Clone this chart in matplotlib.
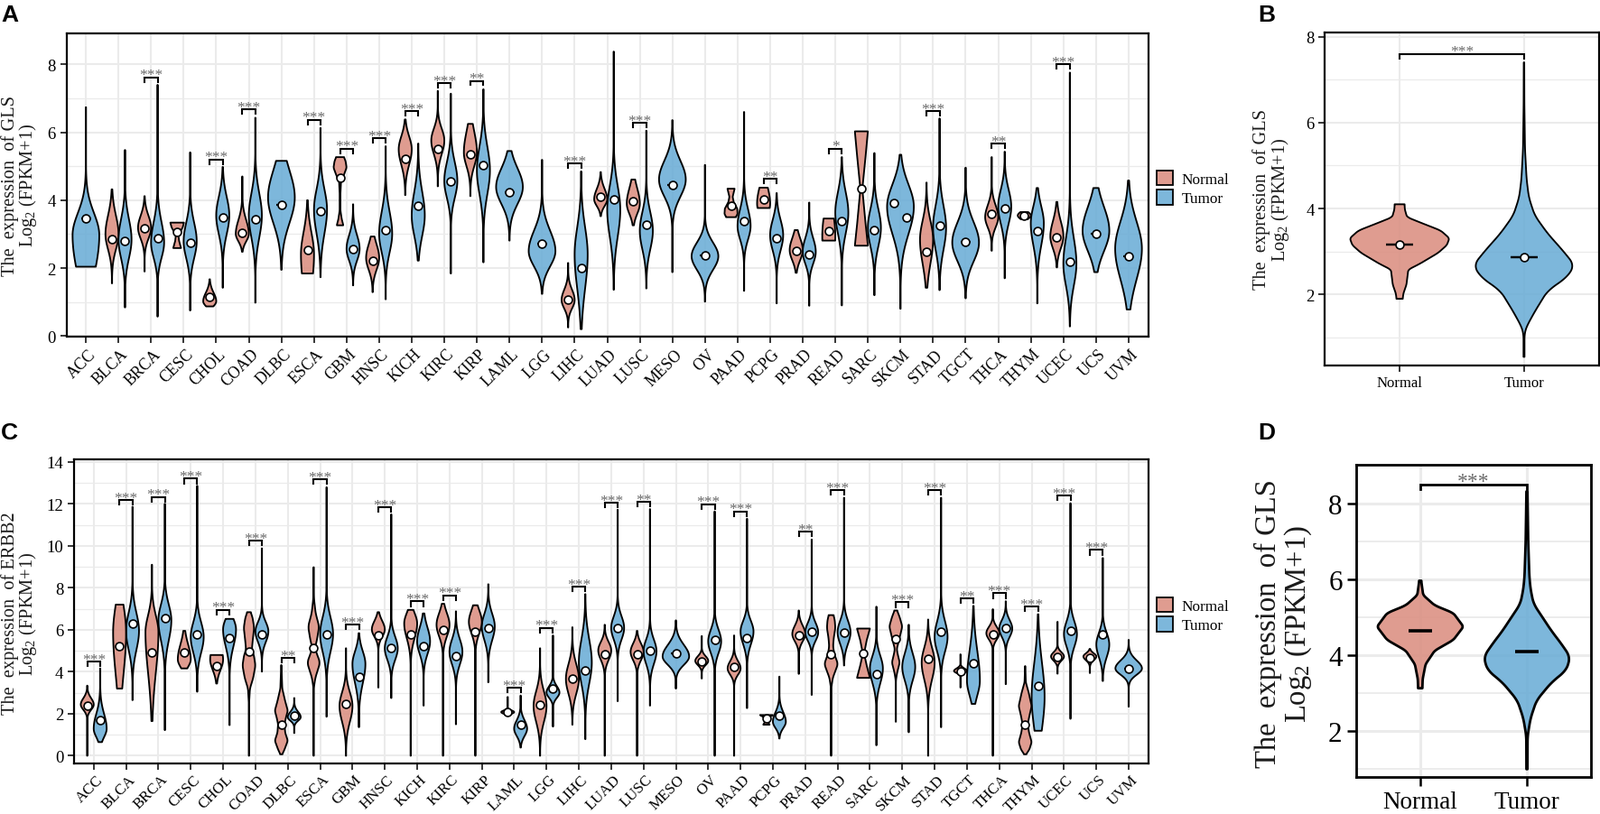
import numpy as np
import matplotlib
matplotlib.use("Agg")
import matplotlib.pyplot as plt
from matplotlib.patches import Patch
from matplotlib.transforms import ScaledTranslation
from matplotlib.colors import to_rgba

plt.rcParams['font.family'] = ['Liberation Serif', 'DejaVu Serif']
plt.rcParams['mathtext.fontset'] = 'custom'
plt.rcParams['mathtext.rm'] = 'Liberation Serif'
plt.rcParams['mathtext.default'] = 'regular'

W, H = 1772, 903
NORMAL_COL = to_rgba('#DB8F81', 0.88)
TUMOR_COL = to_rgba('#6BADD6', 0.88)

cancers = ['ACC', 'BLCA', 'BRCA', 'CESC', 'CHOL', 'COAD', 'DLBC', 'ESCA', 'GBM', 'HNSC', 'KICH',
           'KIRC', 'KIRP', 'LAML', 'LGG', 'LIHC', 'LUAD', 'LUSC', 'MESO', 'OV', 'PAAD', 'PCPG',
           'PRAD', 'READ', 'SARC', 'SKCM', 'STAD', 'TGCT', 'THCA', 'THYM', 'UCEC', 'UCS', 'UVM']

# Panel A, tumor violins (one per cancer)
a_t_lo = [2.04, .84, .57, .75, 1.42, .98, 1.95, 1.73, 1.49, 1.08, 2.22, 1.84, 2.17, 2.81, 1.24, .2, 1.36,
          1.4, 1.88, 1.01, 1.33, .96, .89, .9, 1.2, .8, 1.35, 1.11, 1.7, .96, .28, 1.88, .78]
a_t_hi = [6.74, 5.48, 7.4, 5.41, 4.98, 6.43, 5.16, 6.13, 3.88, 5.59, 5.67, 7.14, 7.27, 5.45, 5.19, 4.85, 8.38,
          6.05, 6.36, 5.04, 6.6, 4.21, 3.93, 5.27, 5.39, 5.34, 6.41, 4.96, 5.43, 4.36, 7.76, 4.36, 4.58]
a_t_mode = [2.97, 2.84, 2.75, 2.79, 3.55, 3.55, 4.08, 3.72, 2.57, 3.01, 3.55, 4.57, 4.88, 4.39, 2.5, 2.4, 3.72,
            3.1, 4.61, 2.35, 3.24, 2.97, 2.48, 3.63, 3.19, 3.81, 3.19, 2.75, 3.81, 3.32, 2.13, 3.1, 2.57]
a_t_dn = [1.2, .55, .45, .5, .55, .65, .75, .7, .35, .55, .6, .5, .7, .5, .45, 1.0, .8,
          .55, .5, .4, .4, .45, .35, .6, .55, .8, .65, .55, .5, .65, .65, .6, .9]
a_t_up = [.65, .6, .6, .55, .55, .65, .8, .6, .4, .65, .7, .55, .7, .55, .6, .8, .7,
          .55, .55, .4, .5, .45, .4, .6, .55, .65, .65, .6, .5, .5, .75, .7, .8]
a_t_med = [3.46, 2.81, 2.89, 2.75, 3.48, 3.43, 3.87, 3.68, 2.55, 3.12, 3.83, 4.55, 5.04, 4.23, 2.72, 2.0, 4.03,
           3.28, 4.45, 2.38, 3.39, 2.87, 2.41, 3.39, 3.12, 3.49, 3.25, 2.77, 3.77, 3.1, 2.2, 3.0, 2.35]
a_solo = ['ACC', 'DLBC', 'LAML', 'LGG', 'MESO', 'OV', 'SKCM', 'TGCT', 'UCS', 'UVM']

# Panel A, normal violins
a_n_cat = ['BLCA', 'BRCA', 'CHOL', 'COAD', 'ESCA', 'HNSC', 'KICH', 'KIRC', 'KIRP', 'LIHC', 'LUAD', 'LUSC',
           'PCPG', 'PRAD', 'READ', 'STAD', 'THCA', 'THYM', 'UCEC']
a_n_lo = [1.55, 1.9, .87, 2.48, 1.84, 1.29, 4.15, 4.41, 4.12, .25, 3.53, 3.26, 3.77, 1.86, 2.81, 1.42, 2.51, 3.44, 2.02]
a_n_hi = [4.32, 4.12, 1.67, 4.7, 4.0, 2.93, 6.38, 7.22, 6.25, 2.15, 4.83, 4.61, 4.37, 3.12, 3.46, 4.52, 5.27, 3.65, 3.95]
a_n_mode = [3.0, 3.19, 1.02, 3.01, 2.4, 2.3, 5.5, 5.76, 5.41, 1.06, 4.03, 3.9, 3.9, 2.53, 2.93, 2.84, 3.5, 3.55, 2.93]
a_n_dn = [.45, .32, .14, .22, 1.0, .35, .45, .4, .4, .25, .2, .3, .35, .3, 1, .7, .3, .1, .35]
a_n_up = [.55, .35, .25, .4, .65, .4, .38, .35, .6, .3, .3, .45, .5, .35, .8, .55, .35, .1, .45]
a_n_med = [2.84, 3.17, 1.15, 3.04, 2.53, 2.22, 5.23, 5.5, 5.34, 1.08, 4.1, 3.96, 4.03, 2.52, 3.1, 2.48, 3.6, 3.55, 2.91]

# odd shaped normal violins: (y, half width, median)
a_n_knots = {
    'CESC': ([2.59, 2.8, 2.97, 3.2, 3.34], [.12, .06, .04, .17, .21], 3.06),
    'GBM': ([3.26, 3.45, 3.7, 4.2, 4.55, 4.75, 4.96, 5.15, 5.27], [.1, .05, .012, .012, .03, .12, .2, .17, .12], 4.65),
    'PAAD': ([3.5, 3.6, 3.75, 3.95, 4.1, 4.34], [.15, .2, .19, .08, .05, .11], 3.83),
    'SARC': ([2.66, 3.3, 4.33, 5.3, 6.03], [.2, .13, .03, .13, .2], 4.33),
}
# SKCM has no normal violin, both medians sit off centre
a_skcm_med = (3.92, 3.49)

a_star_cat = ['BRCA', 'CHOL', 'COAD', 'ESCA', 'GBM', 'HNSC', 'KICH', 'KIRC', 'KIRP', 'LIHC', 'LUSC', 'PCPG',
              'READ', 'STAD', 'THCA', 'UCEC']
a_star_y = [7.62, 5.2, 6.67, 6.37, 5.52, 5.82, 6.62, 7.45, 7.52, 5.08, 6.28, 4.63, 5.52, 6.63, 5.66, 8.0]
a_star_txt = ['***', '***', '***', '***', '***', '***', '***', '***', '**', '***', '***', '**', '*', '***', '**', '***']

# Panel C, tumor violins
c_t_lo = [.65, 2.65, 1.22, 3.05, 1.46, 4.01, 1.08, 1.86, 1.36, 2.75, 2.39, 1.5, 3.5, .39, 1.39, .79, 2.6,
          2.39, 3.2, 0, 2.27, .82, 2.9, 4.3, .5, 1.12, 1.36, 2.47, 3.41, 1.19, 1.76, 3.56, 2.34]
c_t_hi = [4.16, 11.86, 12, 12.86, 6.52, 9.88, 2.75, 12.79, 5.84, 11.5, 6.78, 6.88, 8.17, 2.87, 5.73, 7.7, 11.72,
          11.75, 6.45, 11.64, 11.29, 3.77, 10.3, 12.29, 7.1, 6.24, 12.29, 7.14, 7.36, 6.74, 12.03, 9.42, 5.52]
c_t_mode = [1.29, 5.95, 6.45, 5.66, 6.02, 5.92, 1.84, 5.8, 4.37, 5.12, 5.45, 4.95, 6.16, 1.29, 3.01, 4.44, 6.09,
            4.98, 4.73, 5.45, 5.92, 1.62, 5.88, 5.88, 4.16, 4.23, 5.66, 3.58, 6.06, 2.8, 5.8, 5.3, 4.16]
c_t_dn = [.4, .9, .95, .75, .8, .5, .17, .85, .9, .55, .6, .6, .65, .35, .25, 1.0, .55,
          .6, .4, .55, .6, .3, .4, .55, .7, .65, .7, .7, .4, 1.5, .6, .6, .3]
c_t_up = [.7, .85, .75, .7, .5, .45, .25, .8, .6, .55, .65, .6, .6, .4, .3, 1.1, .55,
          .55, .55, .55, .5, .45, .45, .55, .6, .65, .75, 1.4, .4, 1.6, .6, .55, .38]
c_t_med = [1.69, 6.28, 6.57, 5.8, 5.59, 5.8, 1.89, 5.8, 3.77, 5.12, 5.23, 4.77, 6.06, 1.48, 3.18, 4.06, 6.06,
           5.02, 4.89, 5.52, 5.62, 1.89, 5.9, 5.88, 3.87, 3.89, 5.9, 4.42, 6.06, 3.34, 5.95, 5.76, 4.16]
c_solo = ['MESO', 'UVM']

# Panel C, normal violins
c_n_cat = ['ACC', 'BLCA', 'BRCA', 'CESC', 'CHOL', 'GBM', 'HNSC', 'KICH', 'KIRC', 'KIRP', 'LAML', 'LGG', 'LIHC',
           'LUAD', 'LUSC', 'OV', 'PAAD', 'PRAD', 'STAD', 'TGCT', 'THCA', 'UCEC', 'UCS']
c_n_lo = [0, 3.2, 1.65, 4.16, 3.44, 0, 3.25, 0, 0, 0, 1.9, 0, 1.48, 0, 0, 3.68, 0, 3.9, 0, 3.25, 0, 3.91, 3.94]
c_n_hi = [3.34, 7.2, 9.1, 5.95, 4.8, 5.12, 6.84, 6.95, 7.24, 7.17, 2.8, 5.12, 6.12, 6.24, 5.95, 5.7, 5.73, 6.92,
          6.49, 4.83, 6.98, 6.38, 5.09]
c_n_mode = [2.44, 5.88, 5.88, 4.59, 4.59, 2.37, 6.02, 6.3, 6.24, 6.38, 2.08, 2.37, 3.66, 5.02, 4.95, 4.52, 4.16,
            5.8, 4.44, 4.04, 5.84, 4.73, 4.73]
c_n_dn = [.25, 2.0, 1.9, .35, .5, .75, .35, .7, .55, .55, .08, .75, .7, .45, .4, .2, .3, .35, .8, .1, .3, .2, .18]
c_n_up = [.3, 1.3, .8, .7, .6, .65, .4, .5, .55, .55, .08, .7, .7, .4, .4, .22, .35, .4, .7, .12, .3, .2, .15]
c_n_med = [2.37, 5.23, 4.9, 4.9, 4.26, 2.45, 5.73, 5.78, 6.0, 5.92, 2.1, 2.44, 3.66, 4.85, 4.83, 4.5, 4.23, 5.73,
           4.63, 4.0, 5.78, 4.69, 4.66]

c_n_knots = {
    'COAD': ([0, 2.5, 3.2, 3.7, 4.3, 4.8, 5.05, 5.4, 6.1, 6.6, 6.84],
             [.004, .004, .03, .13, .2, .15, .09, .11, .16, .11, .05], 4.97),
    'DLBC': ([.07, .3, .72, 1.1, 1.5, 1.8, 2.15, 2.6, 3.2, 4.32],
             [.03, .1, .2, .12, .1, .14, .2, .12, .03, .004], 1.5),
    'ESCA': ([0, 3.2, 3.7, 4.44, 4.85, 5.13, 5.5, 6.16, 6.8, 7.5, 8.98],
             [.004, .004, .05, .2, .1, .04, .1, .17, .06, .01, .004], 5.13),
    'PCPG': ([1.48, 1.6, 1.75, 1.85, 1.94], [.1, .05, .03, .1, .2], 1.79),
    'READ': ([0, 3.2, 3.7, 4.37, 4.85, 5.2, 5.6, 6.09, 6.5, 6.7],
             [.004, .004, .05, .21, .1, .06, .08, .13, .11, .07], 4.85),
    'SARC': ([3.71, 4.3, 4.87, 5.5, 6.06], [.2, .1, .02, .1, .2], 4.87),
    'SKCM': ([1.62, 3.6, 3.95, 4.44, 4.9, 5.09, 5.5, 6.16, 6.6, 6.92],
             [.004, .004, .04, .12, .05, .03, .1, .2, .12, .04], 5.55),
    'THYM': ([.07, .3, .65, 1.1, 1.5, 1.9, 2.37, 3, 3.5, 4.27],
             [.03, .13, .2, .12, .08, .13, .2, .11, .02, .004], 1.5),
}

c_star_cat = ['ACC', 'BLCA', 'BRCA', 'CESC', 'CHOL', 'COAD', 'DLBC', 'ESCA', 'GBM', 'HNSC', 'KICH', 'KIRC', 'LAML',
              'LGG', 'LIHC', 'LUAD', 'LUSC', 'OV', 'PAAD', 'PRAD', 'READ', 'SKCM', 'STAD', 'TGCT', 'THCA', 'THYM',
              'UCEC', 'UCS']
c_star_y = [4.49, 12.19, 12.33, 13.2, 6.95, 10.25, 4.66, 13.17, 6.24, 11.83, 7.35, 7.64, 3.23, 6.09, 8.06, 12.05,
            12.1, 11.99, 11.64, 10.68, 12.65, 7.31, 12.65, 7.5, 7.74, 7.1, 12.4, 9.8]
c_star_txt = ['***', '***', '***', '***', '***', '***', '**', '***', '***', '***', '***', '***', '***', '***', '***',
              '***', '**', '***', '***', '**', '***', '***', '***', '**', '***', '***', '***', '***']

# Panel B, pan cancer GLS outline
b_n_y = [1.9, 2.02, 2.23, 2.58, 2.72, 2.97, 3.15, 3.31, 3.49, 3.66, 3.8, 3.98, 4.1]
b_n_hw = [.025, .03, .055, .07, .165, .31, .38, .40, .33, .18, .06, .042, .04]
b_t_y = [.55, 1.11, 1.25, 1.6, 2.09, 2.41, 2.69, 3.03, 3.42, 3.84, 4.26, 4.68, 5.38, 6.43, 7.4]
b_t_hw = [.004, .004, .02, .086, .19, .35, .405, .31, .19, .086, .039, .021, .008, .003, .002]
b_med = [3.16, 2.87]

# Panel D
d_n_y = [3.13, 3.37, 3.76, 4.12, 4.40, 4.75, 5.11, 5.31, 5.58, 5.9, 5.96]
d_n_hw = [.02, .023, .05, .136, .31, .405, .31, .136, .028, .012, .01]
d_t_y = [1.0, 1.87, 2.34, 2.81, 3.29, 3.6, 3.96, 4.32, 4.63, 5.11, 5.35, 5.74, 6.06, 7.0, 8.31]
d_t_hw = [.005, .006, .034, .09, .232, .37, .405, .317, .232, .119, .062, .034, .023, .012, .005]
d_med = [4.65, 4.1]

group_names = ['Normal', 'Tumor']


def make_axes(fig, left, top, right, bottom):
    return fig.add_axes([left / W, 1 - bottom / H, (right - left) / W, (bottom - top) / H])


def px_text(fig, x, y, s, **kw):
    # fig.text but with pixel coordinates from the top left
    return fig.text(x / W, 1 - y / H, s, **kw)


def gauss_outline(lo, hi, mode, dn, up, width):
    y = np.linspace(lo, hi, 300)
    sd = np.where(y < mode, dn, up)
    hw = width * np.exp(-0.5 * ((y - mode) / sd) ** 2)
    return y, np.maximum(hw, 0.004)


def knot_outline(ys, hws):
    y = np.linspace(ys[0], ys[-1], 300)
    hw = np.interp(y, ys, hws)
    # soften the corners of the straight segments a bit
    k = 6
    pad = np.pad(hw, k, mode='edge')
    hw = np.convolve(pad, np.ones(2 * k + 1) / (2 * k + 1), mode='valid')
    return y, hw


def draw_violin(ax, xc, y, hw, col, lw):
    xs = np.concatenate([xc - hw, (xc + hw)[::-1]])
    ys = np.concatenate([y, y[::-1]])
    ax.fill(xs, ys, facecolor=col, edgecolor='black', linewidth=lw, zorder=3, joinstyle='round')


def draw_median(ax, xc, med, half, dot=True, lw=1.6):
    ax.plot([xc - half, xc + half], [med, med], color='black', lw=lw, zorder=4, solid_capstyle='butt')
    if dot:
        ax.plot([xc], [med], 'o', ms=6.4, mfc='white', mec='black', mew=1.2, zorder=5)


def draw_bracket(ax, x0, x1, y, tip, txt, fs, lw=1.5, off=-1.2):
    ax.plot([x0, x0, x1, x1], [y - tip, y, y, y - tip], color='black', lw=lw, zorder=6, solid_joinstyle='miter')
    ax.annotate(txt, xy=((x0 + x1) / 2, y), xytext=(0, off), textcoords='offset points', ha='center',
                va='baseline', fontsize=fs, color='#6a6a6a', zorder=6)


def style_axes(ax, major, minor, xticks, spine=1.6, tick_w=1.1, tick_l=5.0, grid=1.5):
    ax.set_axisbelow(True)
    ax.set_yticks(major)
    ax.set_yticks(minor, minor=True)
    ax.set_xticks(xticks)
    ax.grid(True, which='major', color='#ebebeb', lw=grid)
    ax.grid(True, which='minor', axis='y', color='#ebebeb', lw=grid * 0.6)
    ax.tick_params(axis='y', which='minor', length=0)
    ax.tick_params(axis='both', which='major', width=tick_w, length=tick_l, color='black')
    for s in ax.spines.values():
        s.set_linewidth(spine)
        s.set_color('black')


def pan_panel(ax, t_lo, t_hi, t_mode, t_dn, t_up, t_med, solo, n_cat, n_lo, n_hi, n_mode, n_dn, n_up, n_med,
              n_knots, star_cat, star_y, star_txt, tip, label_fs, label_up):
    for i, name in enumerate(cancers):
        y, hw = gauss_outline(t_lo[i], t_hi[i], t_mode[i], t_dn[i], t_up[i], 0.41 if name in solo else 0.2)
        xc = i if name in solo else i + 0.2
        draw_violin(ax, xc, y, hw, TUMOR_COL, 1.35)
        if name in solo and name != 'SKCM':
            draw_median(ax, i, t_med[i], 0.15)
        elif name != 'SKCM':
            draw_median(ax, i + 0.2, t_med[i], 0.08)
    for j, name in enumerate(n_cat):
        i = cancers.index(name)
        y, hw = gauss_outline(n_lo[j], n_hi[j], n_mode[j], n_dn[j], n_up[j], 0.2)
        draw_violin(ax, i - 0.2, y, hw, NORMAL_COL, 1.35)
        draw_median(ax, i - 0.2, n_med[j], 0.08)
    for name, (ys, hws, med) in n_knots.items():
        i = cancers.index(name)
        y, hw = knot_outline(ys, hws)
        draw_violin(ax, i - 0.2, y, hw, NORMAL_COL, 1.35)
        draw_median(ax, i - 0.2, med, 0.08)
    for name, y, txt in zip(star_cat, star_y, star_txt):
        i = cancers.index(name)
        draw_bracket(ax, i - 0.2, i + 0.2, y, tip, txt, 12.5)
    ax.set_xlim(-0.6, len(cancers) - 0.4)
    ax.set_xticklabels(cancers, rotation=45, ha='right', va='top', rotation_mode='anchor', fontsize=label_fs)
    shift = ScaledTranslation(1.5 / 72, label_up / 72, fig.dpi_scale_trans)
    for lab in ax.get_xticklabels():
        lab.set_transform(lab.get_transform() + shift)


def two_group_panel(ax, n_y, n_hw, t_y, t_hw, med, lw, dot):
    for xc, ys, hws, col, m in [(0, n_y, n_hw, NORMAL_COL, med[0]), (1, t_y, t_hw, TUMOR_COL, med[1])]:
        y, hw = knot_outline(ys, hws)
        draw_violin(ax, xc, y, hw, col, lw)
        draw_median(ax, xc, m, 0.11, dot=dot, lw=lw * 1.3)
    ax.set_xlim(-0.6, 1.6)


def add_legend(fig, y_px):
    handles = [Patch(facecolor=NORMAL_COL, edgecolor='black', lw=1.3),
               Patch(facecolor=TUMOR_COL, edgecolor='black', lw=1.3)]
    fig.legend(handles, group_names, loc='center left', bbox_to_anchor=(1281 / W, 1 - y_px / H), frameon=False,
               fontsize=12.4, handlelength=1.05, handleheight=1.1, labelspacing=0.2, handletextpad=0.55,
               borderpad=0, borderaxespad=0)


fig = plt.figure(figsize=(W / 100, H / 100), dpi=100)

# panel A
ax_a = make_axes(fig, 73.5, 37.5, 1271.5, 374)
style_axes(ax_a, [0, 2, 4, 6, 8], [1, 3, 5, 7], np.arange(len(cancers)))
pan_panel(ax_a, a_t_lo, a_t_hi, a_t_mode, a_t_dn, a_t_up, a_t_med, a_solo, a_n_cat, a_n_lo, a_n_hi, a_n_mode,
          a_n_dn, a_n_up, a_n_med, a_n_knots, a_star_cat, a_star_y, a_star_txt, 0.13, 12.8, 1.0)
skcm = cancers.index('SKCM')
draw_median(ax_a, skcm - 0.2, a_skcm_med[0], 0.0)
draw_median(ax_a, skcm + 0.2, a_skcm_med[1], 0.0)
ax_a.set_ylim(-0.02, 8.93)
ax_a.tick_params(axis='y', labelsize=13.5)

# panel C
ax_c = make_axes(fig, 82.3, 510, 1271.5, 847.3)
style_axes(ax_c, np.arange(0, 15, 2), np.arange(1, 15, 2), np.arange(len(cancers)))
pan_panel(ax_c, c_t_lo, c_t_hi, c_t_mode, c_t_dn, c_t_up, c_t_med, c_solo, c_n_cat, c_n_lo, c_n_hi, c_n_mode,
          c_n_dn, c_n_up, c_n_med, c_n_knots, c_star_cat, c_star_y, c_star_txt, 0.22, 12.2, 2.0)
ax_c.set_ylim(-0.38, 14.12)
ax_c.tick_params(axis='y', labelsize=13.5)

# panel B
ax_b = make_axes(fig, 1467.4, 37.3, 1770.5, 405.5)
style_axes(ax_b, [2, 4, 6, 8], [1, 3, 5, 7], [0, 1])
two_group_panel(ax_b, b_n_y, b_n_hw, b_t_y, b_t_hw, b_med, 1.35, True)
draw_bracket(ax_b, 0, 1, 7.6, 0.12, '***', 12.5)
ax_b.set_xticklabels(group_names, fontsize=12)
ax_b.set_ylim(0.36, 8.09)
ax_b.tick_params(axis='y', labelsize=13.5)

# panel D is the same thing scaled up
ax_d = make_axes(fig, 1502, 515.7, 1762, 861.7)
style_axes(ax_d, [2, 4, 6, 8], [1, 3, 5, 7], [0, 1], spine=2.0, tick_w=1.8, tick_l=7.5, grid=2.2)
two_group_panel(ax_d, d_n_y, d_n_hw, d_t_y, d_t_hw, d_med, 2.0, False)
draw_bracket(ax_d, 0, 1, 8.5, 0.14, '***', 17, lw=2.0, off=-1.8)
ax_d.set_xticklabels(group_names, fontsize=19.5)
ax_d.set_ylim(0.8, 9.02)
ax_d.tick_params(axis='y', labelsize=22.4)

add_legend(fig, 209.5)
add_legend(fig, 682.6)

# y labels, two lines each, placed by hand
label_kw = dict(rotation=90, ha='center', va='center', color='#1a1a1a')
px_text(fig, 11, 205.6, 'The  expression  of GLS', fontsize=14.7, **label_kw)
px_text(fig, 31, 205.6, 'Log$_2$ (FPKM+1)', fontsize=14.7, **label_kw)
px_text(fig, 11, 680, 'The  expression  of ERBB2', fontsize=14.7, **label_kw)
px_text(fig, 31, 680, 'Log$_2$ (FPKM+1)', fontsize=14.7, **label_kw)
px_text(fig, 1397, 221, 'The  expression  of GLS', fontsize=14.7, **label_kw)
px_text(fig, 1418, 221, 'Log$_2$ (FPKM+1)', fontsize=14.7, **label_kw)
px_text(fig, 1404, 691, 'The  expression  of GLS', fontsize=23.5, **label_kw)
px_text(fig, 1438, 691, 'Log$_2$ (FPKM+1)', fontsize=23.5, **label_kw)

# panel letters
for x, y, s in [(1, 24, 'A'), (1393, 24, 'B'), (1, 487, 'C'), (1393, 487, 'D')]:
    px_text(fig, x, y, s, family='Liberation Sans', fontweight='bold', fontsize=19, ha='left', va='baseline')

fig.savefig('out.png', dpi=100)
